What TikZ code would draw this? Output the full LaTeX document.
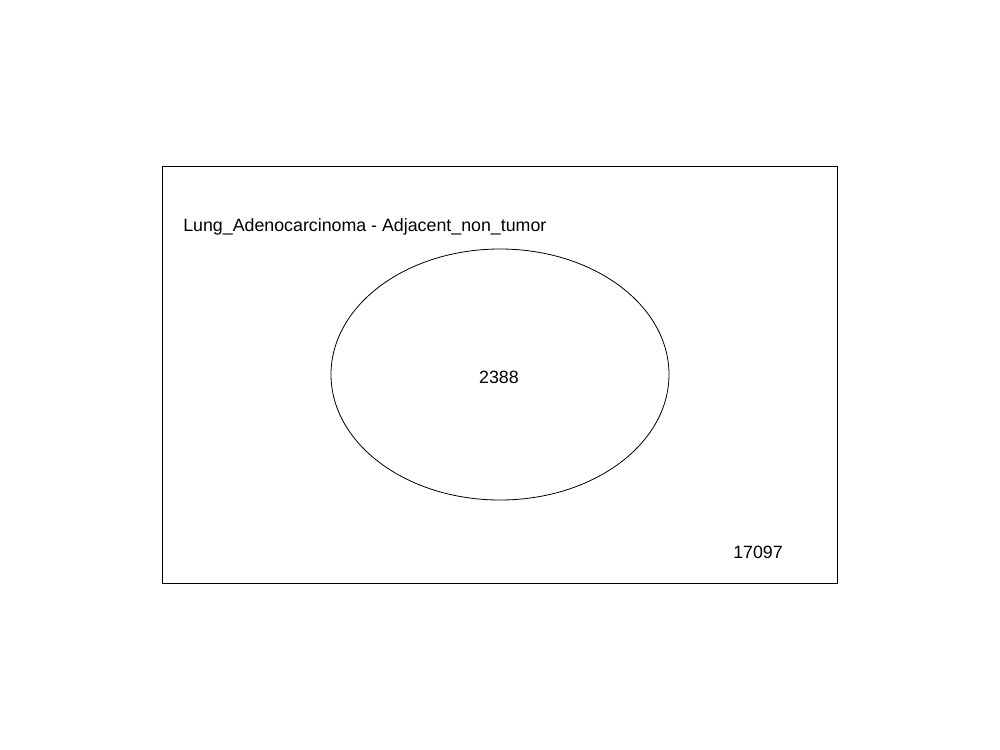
\documentclass[tikz,border=0pt]{standalone}
\usepackage{fontspec}
\usetikzlibrary{shapes.geometric}
\setmainfont{Liberation Sans}
\begin{document}
\begin{tikzpicture}[x=0.75pt,y=-0.75pt,
  lbl/.style={font=\fontsize{13.35}{16}\selectfont,inner sep=0pt},
  frame/.style={draw=black,line width=0.6pt}]
\useasboundingbox (0,0) rectangle (1000,750);
\node[frame,minimum width=675*0.75pt,minimum height=417*0.75pt,inner sep=0pt] (box) at (499.5,374.5) {};
\node[frame,ellipse,minimum width=338*0.75pt,minimum height=251*0.75pt,inner sep=0pt] (set) at (500,374.5) {};
\node[lbl,anchor=west] (title) at (183,226.5) {Lung\_Adenocarcinoma - Adjacent\_non\_tumor};
\node[lbl] (inside) at (499,377.5) {2388};
\node[lbl] (outside) at (758,552) {17097};
\end{tikzpicture}
\end{document}
